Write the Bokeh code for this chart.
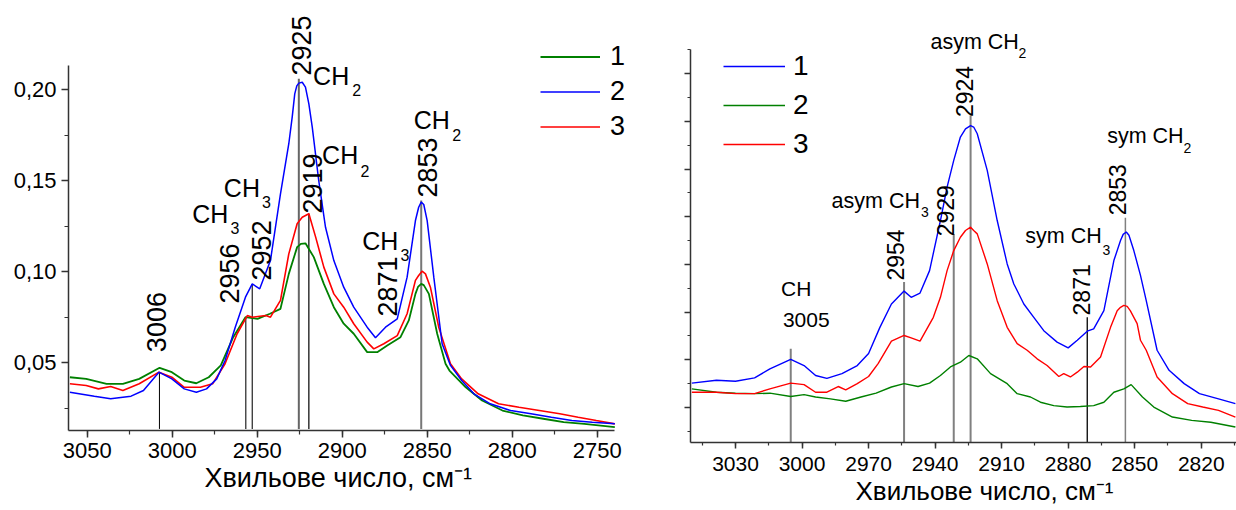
import math
from bokeh.plotting import figure
from bokeh.models import (ColumnDataSource, Range1d, SingleIntervalTicker, Legend,
                          LegendItem, Title, CustomJSTickFormatter)
from bokeh.layouts import row
from bokeh.core.properties import value
from bokeh.embed import file_html
from bokeh.resources import INLINE

REG = "Liberation Sans"
GREEN, BLUE, RED = "#008000", "#0000ff", "#ff0000"

# ---------------- left panel data (wavenumber, absorbance) ----------------
L1_w = [3060.2, 3050.6, 3038.6, 3029.0, 3019.4, 3007.4, 3000.2, 2992.9, 2985.8, 2978.5,
        2971.4, 2964.1, 2956.9, 2949.8, 2942.5, 2936.3, 2931.4, 2926.5, 2924.3, 2921.6,
        2916.7, 2910.8, 2904.9, 2899.1, 2893.2, 2885.3, 2879.4, 2873.5, 2865.7, 2860.8,
        2856.9, 2855.4, 2853.5, 2852.0, 2849.0, 2844.1, 2839.2, 2836.9, 2827.3, 2817.7,
        2805.7, 2793.7, 2781.7, 2769.7, 2757.6, 2739.6]
L1_a = [0.0419, 0.0410, 0.0383, 0.0383, 0.0410, 0.0471, 0.0447, 0.0401, 0.0386, 0.0419,
        0.0484, 0.0639, 0.0749, 0.0740, 0.0768, 0.0795, 0.0987, 0.1134, 0.1152, 0.1155,
        0.1079, 0.0932, 0.0804, 0.0713, 0.0658, 0.0557, 0.0557, 0.0593, 0.0639, 0.0731,
        0.0877, 0.0915, 0.0932, 0.0925, 0.0877, 0.0658, 0.0493, 0.0456, 0.0364, 0.0291,
        0.0236, 0.0209, 0.0191, 0.0172, 0.0163, 0.0145]

L2_w = [3060.2, 3045.8, 3036.2, 3024.2, 3016.9, 3007.8, 3000.2, 2992.9, 2985.8, 2979.8,
        2973.8, 2968.9, 2962.9, 2956.9, 2952.9, 2948.5, 2942.2, 2936.3, 2931.4, 2929.4,
        2927.9, 2926.7, 2925.5, 2923.5, 2921.6, 2919.6, 2917.6, 2913.8, 2909.8, 2904.9,
        2899.1, 2893.2, 2885.3, 2880.4, 2874.5, 2867.6, 2861.8, 2856.9, 2855.0, 2853.5,
        2852.0, 2850.0, 2846.1, 2841.2, 2836.3, 2829.7, 2822.5, 2812.9, 2800.9, 2788.9,
        2776.9, 2764.9, 2752.9, 2739.6]
L2_a = [0.0337, 0.0315, 0.0301, 0.0315, 0.0346, 0.0447, 0.0410, 0.0355, 0.0337, 0.0355,
        0.0410, 0.0511, 0.0694, 0.0859, 0.0932, 0.0905, 0.1060, 0.1427, 0.1702, 0.1848,
        0.1976, 0.2020, 0.2035, 0.2040, 0.2013, 0.1921, 0.1793, 0.1500, 0.1243, 0.1060,
        0.0914, 0.0804, 0.0694, 0.0636, 0.0694, 0.0740, 0.0969, 0.1280, 0.1353, 0.1381,
        0.1368, 0.1280, 0.0969, 0.0603, 0.0484, 0.0401, 0.0328, 0.0273, 0.0236, 0.0218,
        0.0199, 0.0181, 0.0172, 0.0163]

L3_w = [3060.2, 3050.6, 3043.4, 3036.2, 3029.0, 3019.4, 3007.8, 3000.2, 2992.9, 2983.4,
        2976.2, 2968.9, 2961.8, 2955.8, 2952.9, 2944.9, 2942.2, 2936.3, 2931.4, 2926.5,
        2923.5, 2919.6, 2915.6, 2910.8, 2904.9, 2899.1, 2893.2, 2885.3, 2881.4, 2875.5,
        2867.6, 2861.8, 2856.9, 2855.0, 2853.0, 2851.0, 2848.1, 2843.2, 2836.3, 2829.7,
        2820.0, 2808.0, 2796.0, 2784.0, 2772.0, 2761.2, 2750.5, 2739.6]
L3_a = [0.0383, 0.0374, 0.0355, 0.0368, 0.0346, 0.0383, 0.0447, 0.0419, 0.0364, 0.0364,
        0.0383, 0.0493, 0.0658, 0.0758, 0.0749, 0.0758, 0.0749, 0.0841, 0.1097, 0.1262,
        0.1298, 0.1317, 0.1189, 0.1024, 0.0877, 0.0804, 0.0713, 0.0612, 0.0575, 0.0603,
        0.0648, 0.0768, 0.0951, 0.0978, 0.1002, 0.0987, 0.0914, 0.0694, 0.0493, 0.0410,
        0.0328, 0.0273, 0.0254, 0.0236, 0.0218, 0.0199, 0.0181, 0.0163]

L_legend = ["1", "2", "3"]

# peak marker lines (left)
L_line_w = [3007.5, 2956.7, 2952.9, 2925.5, 2919.6, 2853.5]
L_line_top = [0.0447, 0.0749, 0.0932, 0.2059, 0.1319, 0.1390]
L_line_bot = [0.0135, 0.0135, 0.0135, 0.0135, 0.0135, 0.0135]
L_line_col = ["#000000", "#222222", "#222222", "#666666", "#000000", "#777777"]
L_line_wd = [1.0, 1.2, 1.2, 2.0, 1.2, 2.0]

L_num_text = ["3006", "2956", "2952", "2925", "2919", "2871", "2853"]
L_num_w = [3009.2, 2966.3, 2947.5, 2923.9, 2917.2, 2873.1, 2849.8]
L_num_a = [0.0557, 0.0824, 0.0951, 0.2077, 0.1319, 0.0753, 0.1407]

# group labels (y = vertical middle of the capitals)
L_ch_text = ["CH", "CH", "CH", "CH", "CH", "CH"]
L_ch_w = [2917.1, 2911.8, 2857.9, 2969.6, 2988.2, 2888.2]
L_ch_a = [0.2072, 0.1642, 0.1834, 0.1458, 0.1315, 0.1169]
L_sub_text = ["2", "2", "2", "3", "3", "3"]
L_sub_w = [2894.1, 2889.2, 2835.3, 2947.1, 2965.7, 2865.7]
L_sub_a = [0.1998, 0.1553, 0.1751, 0.1384, 0.1238, 0.1091]

# ---------------- right panel data (wavenumber, arbitrary units) ----------------
R1_w = [3049.7, 3038.6, 3030.0, 3021.4, 3014.5, 3005.1, 2999.1, 2993.9, 2988.8, 2982.0,
        2975.1, 2970.0, 2964.9, 2959.7, 2954.0, 2950.8, 2946.8, 2942.5, 2937.6, 2934.6,
        2931.6, 2928.6, 2926.3, 2924.0, 2922.6, 2921.0, 2916.5, 2912.0, 2907.5, 2904.5,
        2900.0, 2895.5, 2891.0, 2885.0, 2880.0, 2875.9, 2871.4, 2868.5, 2863.9, 2859.4,
        2856.4, 2855.2, 2853.8, 2852.6, 2850.4, 2847.4, 2844.8, 2839.9, 2834.5, 2827.7,
        2820.8, 2812.2, 2804.6]
R1_v = [1.51, 1.57, 1.55, 1.62, 1.81, 2.01, 1.88, 1.67, 1.61, 1.71,
        1.88, 2.13, 2.68, 3.17, 3.44, 3.31, 3.40, 3.87, 4.92, 5.62,
        6.18, 6.67, 6.84, 6.91, 6.88, 6.74, 5.97, 4.92, 4.01, 3.59,
        3.17, 2.89, 2.61, 2.37, 2.25, 2.41, 2.60, 2.65, 3.03, 4.08,
        4.50, 4.63, 4.68, 4.61, 4.29, 3.77, 3.24, 2.20, 1.78, 1.50,
        1.29, 1.18, 1.08]

R2_w = [3049.7, 3038.6, 3030.0, 3021.4, 3014.5, 3005.1, 2999.1, 2993.9, 2987.2, 2980.3,
        2973.4, 2966.6, 2959.7, 2954.0, 2947.7, 2942.5, 2937.6, 2933.1, 2928.6, 2924.8,
        2921.0, 2915.0, 2907.5, 2903.0, 2897.0, 2892.5, 2886.5, 2880.5, 2874.5, 2868.5,
        2863.9, 2859.4, 2854.9, 2851.6, 2846.5, 2841.4, 2833.0, 2824.3, 2815.7, 2804.6]
R2_v = [1.39, 1.32, 1.30, 1.29, 1.30, 1.23, 1.27, 1.22, 1.18, 1.13,
        1.22, 1.30, 1.43, 1.50, 1.44, 1.51, 1.67, 1.85, 1.95, 2.09,
        2.02, 1.71, 1.50, 1.29, 1.22, 1.11, 1.04, 1.01, 1.02, 1.04,
        1.11, 1.32, 1.39, 1.48, 1.22, 1.01, 0.80, 0.73, 0.69, 0.59]

R3_w = [3049.7, 3038.6, 3030.0, 3021.4, 3014.5, 3005.1, 2999.1, 2993.9, 2988.8, 2983.7,
        2980.3, 2975.1, 2970.0, 2965.7, 2959.7, 2954.0, 2950.8, 2946.8, 2940.8, 2937.6,
        2934.6, 2931.6, 2928.6, 2926.3, 2924.0, 2922.6, 2921.0, 2916.5, 2912.0, 2907.5,
        2903.0, 2898.5, 2894.0, 2889.5, 2884.2, 2882.0, 2879.0, 2875.9, 2872.9, 2869.9,
        2865.4, 2860.9, 2857.9, 2856.4, 2854.9, 2853.4, 2852.0, 2848.9, 2847.4, 2844.8,
        2839.9, 2833.0, 2826.1, 2819.3, 2812.2, 2804.6]
R3_v = [1.32, 1.32, 1.29, 1.29, 1.39, 1.51, 1.48, 1.32, 1.32, 1.44,
        1.37, 1.50, 1.65, 1.92, 2.39, 2.51, 2.46, 2.39, 2.89, 3.31,
        3.87, 4.29, 4.57, 4.71, 4.78, 4.71, 4.64, 4.01, 3.24, 2.68,
        2.34, 2.20, 2.02, 1.88, 1.65, 1.71, 1.64, 1.74, 1.86, 1.85,
        2.06, 2.68, 3.03, 3.10, 3.14, 3.12, 3.03, 2.76, 2.41, 2.20,
        1.64, 1.29, 1.08, 1.01, 0.94, 0.80]

R_legend = ["1", "2", "3"]

R_line_w = [3005.1, 2954.0, 2931.6, 2924.0, 2871.4, 2854.2]
R_line_top = [2.23, 3.63, 4.64, 7.12, 2.89, 4.98]
R_line_bot = [0.27, 0.27, 0.27, 0.27, 0.27, 0.27]
R_line_col = ["#808080", "#808080", "#808080", "#808080", "#000000", "#808080"]
R_line_wd = [2.0, 2.0, 2.0, 2.0, 1.3, 1.5]

R_num_text = ["2954", "2929", "2924", "2871", "2853"]
R_num_w = [2957.9, 2935.1, 2926.6, 2874.1, 2857.9]
R_num_v = [3.66, 4.59, 7.09, 2.93, 5.03]

# labels (y = vertical middle of the capitals)
R_c_text = ["CH", "3005"]
R_c_w = [3002.6, 2998.1]
R_c_v = [3.505, 2.828]

R_lab_text = ["asym CH", "asym CH", "sym CH", "sym CH"]
R_lab_w = [2986.7, 2942.1, 2862.4, 2899.3]
R_lab_v = [5.327, 8.660, 6.689, 4.593]
R_sub_text = ["3", "2", "2", "3"]
R_sub_w = [2946.4, 2902.4, 2828.0, 2864.5]
R_sub_v = [5.095, 8.422, 6.436, 4.292]

X_TITLE = "Хвильове число, см⁻¹"


def style_axes(p, tick_font_size, xinterval, yinterval, xbounds, ybounds,
               major_len, minor_len):
    p.xgrid.visible = False
    p.ygrid.visible = False
    p.outline_line_color = None
    p.xaxis.ticker = SingleIntervalTicker(interval=xinterval, num_minor_ticks=2)
    p.yaxis.ticker = SingleIntervalTicker(interval=yinterval, num_minor_ticks=2)
    p.xaxis.bounds = xbounds
    p.yaxis.bounds = ybounds
    for ax in (p.xaxis[0], p.yaxis[0]):
        ax.axis_line_color = "#333333"
        ax.axis_line_width = 1.5
        ax.major_tick_line_color = "#333333"
        ax.minor_tick_line_color = "#333333"
        ax.major_tick_line_width = 1.5
        ax.minor_tick_line_width = 1.2
        ax.major_tick_in = 0
        ax.major_tick_out = major_len
        ax.minor_tick_in = 0
        ax.minor_tick_out = minor_len
        ax.major_label_text_font = REG
        ax.major_label_text_font_size = tick_font_size
        ax.major_label_text_color = "#000000"


# ============================ LEFT FIGURE ============================
pL = figure(width=640, height=498, output_backend="svg", toolbar_location=None,
            title=None, x_range=Range1d(3061.0, 2724.5), y_range=Range1d(0.01264, 0.2489),
            min_border_left=68, min_border_right=0, min_border_top=0, min_border_bottom=68,
            background_fill_color="white", border_fill_color="white")
style_axes(pL, "22px", 50, 0.05, (2739.6, 3061.0), (0.01264, 0.2132), 7, 4)
pL.yaxis.formatter = CustomJSTickFormatter(code="return tick.toFixed(2).replace('.', ',');")
pL.xaxis.major_label_standoff = 5
pL.yaxis.major_label_standoff = 5

pL.segment(x0="x", y0="y0", x1="x", y1="y1", line_color="c", line_width="lw",
           source=ColumnDataSource(dict(x=L_line_w, y0=L_line_bot, y1=L_line_top,
                                        c=L_line_col, lw=L_line_wd)))

rl1 = pL.line(L1_w, L1_a, line_color=GREEN, line_width=1.8)
rl3 = pL.line(L3_w, L3_a, line_color=RED, line_width=1.6)
rl2 = pL.line(L2_w, L2_a, line_color=BLUE, line_width=1.5)

pL.text(x="x", y="y", text="t", angle=math.pi / 2, text_align="left", text_baseline="middle",
        text_font=value(REG), text_font_size="27px", text_color="#000000",
        source=ColumnDataSource(dict(x=L_num_w, y=L_num_a, t=L_num_text)))
pL.text(x="x", y="y", text="t", text_align="left", text_baseline="middle",
        text_font=value(REG), text_font_size="25px", text_color="#000000",
        source=ColumnDataSource(dict(x=L_ch_w, y=L_ch_a, t=L_ch_text)))
pL.text(x="x", y="y", text="t", text_align="left", text_baseline="middle",
        text_font=value(REG), text_font_size="16px", text_color="#000000",
        source=ColumnDataSource(dict(x=L_sub_w, y=L_sub_a, t=L_sub_text)))

legL = Legend(items=[LegendItem(label=L_legend[0], renderers=[rl1]),
                     LegendItem(label=L_legend[1], renderers=[rl2]),
                     LegendItem(label=L_legend[2], renderers=[rl3])],
              location=(472, 288), border_line_color=None, background_fill_alpha=0,
              padding=0, margin=0, spacing=4, label_standoff=10, glyph_width=60,
              glyph_height=31, label_height=31, label_text_font=REG,
              label_text_font_size="27px", label_text_color="#000000")
pL.add_layout(legL)

pL.add_layout(Title(text=X_TITLE, align="left", offset=136, standoff=0, text_font=REG,
                    text_font_size="27px", text_font_style="normal", text_color="#000000"),
              "below")

# ============================ RIGHT FIGURE ============================
pR = figure(width=596, height=510, output_backend="svg", toolbar_location=None,
            title=None, x_range=Range1d(3050.3, 2804.1), y_range=Range1d(0.266, 9.533),
            min_border_left=50, min_border_right=0, min_border_top=0, min_border_bottom=68,
            background_fill_color="white", border_fill_color="white")
style_axes(pR, "21px", 30, 1, (2804.1, 3050.3), (0.266, 8.5), 6, 3)
pR.yaxis.formatter = CustomJSTickFormatter(code="return '';")
pR.xaxis.major_label_standoff = 8

pR.segment(x0="x", y0="y0", x1="x", y1="y1", line_color="c", line_width="lw",
           source=ColumnDataSource(dict(x=R_line_w, y0=R_line_bot, y1=R_line_top,
                                        c=R_line_col, lw=R_line_wd)))

rr2 = pR.line(R2_w, R2_v, line_color=GREEN, line_width=1.4)
rr3 = pR.line(R3_w, R3_v, line_color=RED, line_width=1.4)
rr1 = pR.line(R1_w, R1_v, line_color=BLUE, line_width=1.4)

pR.text(x="x", y="y", text="t", angle=math.pi / 2, text_align="left", text_baseline="middle",
        text_font=value(REG), text_font_size="23px", text_color="#000000",
        source=ColumnDataSource(dict(x=R_num_w, y=R_num_v, t=R_num_text)))
pR.text(x="x", y="y", text="t", text_align="center", text_baseline="middle",
        text_font=value(REG), text_font_size="21px", text_color="#000000",
        source=ColumnDataSource(dict(x=R_c_w, y=R_c_v, t=R_c_text)))
pR.text(x="x", y="y", text="t", text_align="left", text_baseline="middle",
        text_font=value(REG), text_font_size="21.5px", text_color="#000000",
        source=ColumnDataSource(dict(x=R_lab_w, y=R_lab_v, t=R_lab_text)))
pR.text(x="x", y="y", text="t", text_align="left", text_baseline="middle",
        text_font=value(REG), text_font_size="14px", text_color="#000000",
        source=ColumnDataSource(dict(x=R_sub_w, y=R_sub_v, t=R_sub_text)))

legR = Legend(items=[LegendItem(label=R_legend[0], renderers=[rr1]),
                     LegendItem(label=R_legend[1], renderers=[rr2]),
                     LegendItem(label=R_legend[2], renderers=[rr3])],
              location=(33, 281), border_line_color=None, background_fill_alpha=0,
              padding=0, margin=0, spacing=5, label_standoff=8, glyph_width=62,
              glyph_height=34, label_height=34, label_text_font=REG,
              label_text_font_size="28px", label_text_color="#000000")
pR.add_layout(legR)

pR.add_layout(Title(text=X_TITLE, align="left", offset=165, standoff=0, text_font=REG,
                    text_font_size="26px", text_font_style="normal", text_color="#000000"),
              "below")

layout = row(pL, pR)
open("out.html", "w").write(file_html(layout, INLINE))
